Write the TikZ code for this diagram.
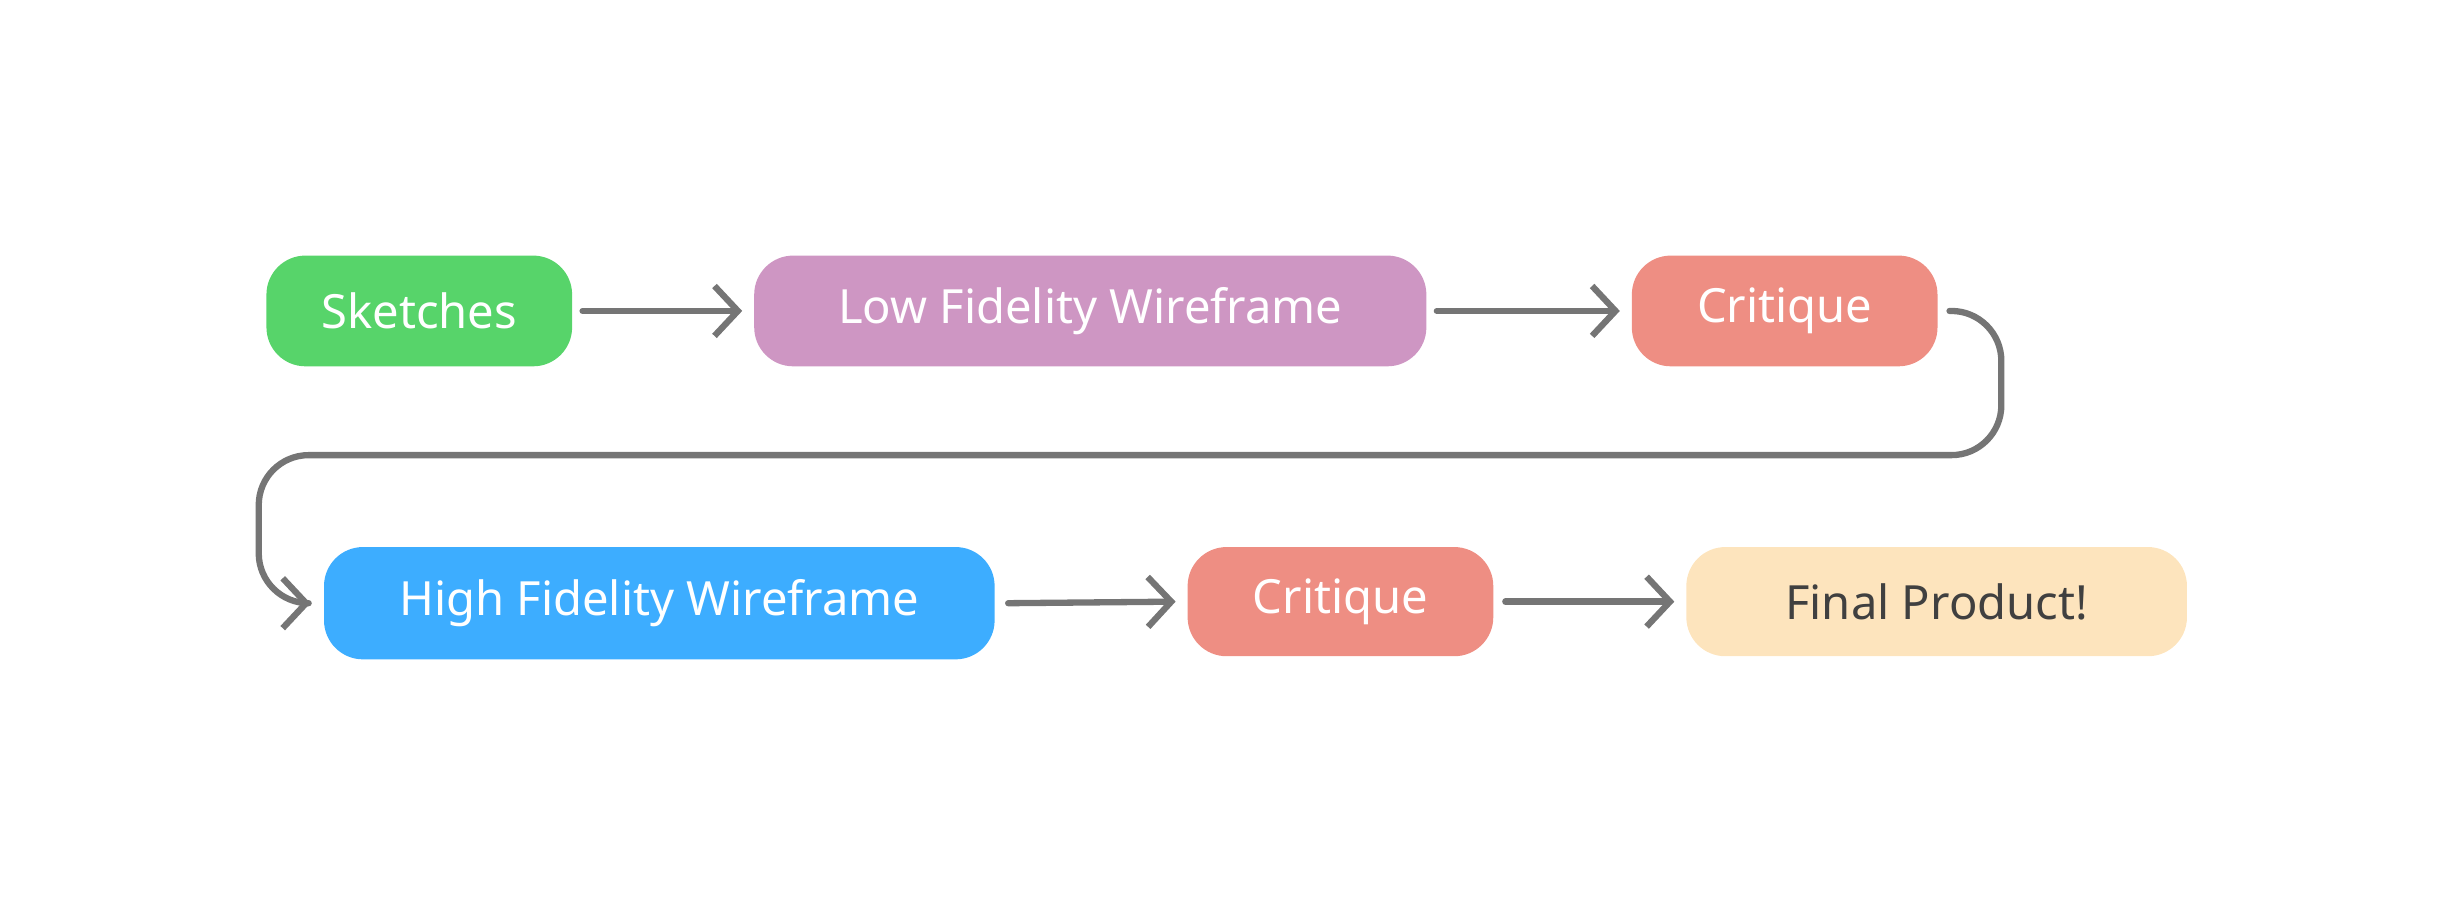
\documentclass[tikz,border=0pt]{standalone}
\usepackage{fontspec}
\setmainfont{Noto Sans}
\usetikzlibrary{arrows.meta, positioning}
\definecolor{sketchgreen}{HTML}{57D46A}
\definecolor{lowpurple}{HTML}{CE96C3}
\definecolor{critred}{HTML}{EE8E83}
\definecolor{highblue}{HTML}{3DADFF}
\definecolor{finalcream}{HTML}{FDE4BD}
\definecolor{flowgray}{HTML}{757575}

\begin{document}
\begin{tikzpicture}[x=0.01cm, y=-0.01cm,
  stage/.style={rectangle, rounded corners=0.25cm, minimum height=0.71cm,
    align=center, text=white, font=\fontsize{8.6}{10}\selectfont, inner sep=0pt},
  %
  flow/.style={draw=flowgray, line width=1.15pt, line cap=round, line join=round,
    -{Straight Barb[length=0.15cm, width=0.32cm, line width=1.15pt]}}
  ]

  \useasboundingbox (0,0) rectangle (1568,588);

  \node [stage, fill=sketchgreen, minimum width=1.96cm] (sketches) at (269,199.5) {Sketches};
  \node [stage, fill=lowpurple, minimum width=4.31cm] (lowfi) at (699.5,199.5) {Low Fidelity Wireframe};
  \node [stage, fill=critred, minimum width=1.96cm] (critA) at (1145,199.5) {Critique};
  %%%%%%%%%%%%%%%%%%%%%%%%%%%%%%%
  \node [stage, fill=highblue, minimum width=4.30cm, minimum height=0.72cm] (highfi) at (423,387) {High Fidelity Wireframe};
  \node [stage, fill=critred, minimum width=1.96cm, minimum height=0.70cm] (critB) at (860,386) {Critique};
  \node [stage, fill=finalcream, text=black!75, minimum width=3.21cm, minimum height=0.70cm] (final) at (1242.5,386) {Final Product!};

  \coordinate (turn) at (1284,292);

  \draw [flow] ([xshift=0.06cm]sketches.east) -- ([xshift=-0.07cm]lowfi.west);
  \draw [flow] ([xshift=0.06cm]lowfi.east) -- ([xshift=-0.07cm]critA.west);
  \draw [flow, rounded corners=0.32cm] ([xshift=0.07cm]critA.east) -| (turn)
    -- (166,292) |- ([xshift=-0.08cm]highfi.west);
  \draw [flow] ([xshift=0.08cm]highfi.east) -- ([xshift=-0.07cm]critB.west);
  \draw [flow] ([xshift=0.07cm]critB.east) -- ([xshift=-0.07cm]final.west);

\end{tikzpicture}
\end{document}
